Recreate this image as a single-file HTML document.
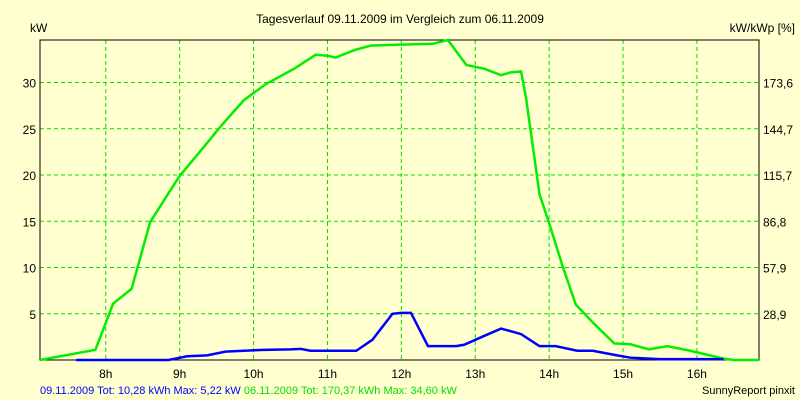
<!DOCTYPE html>
<html><head><meta charset="utf-8"><style>
body{margin:0;background:#ffffd0;}
svg{display:block;font-family:"Liberation Sans",sans-serif;}
</style></head><body>
<svg id="c" width="800" height="400">
<rect width="800" height="400" fill="#ffffd0"/>
<text x="400" y="23" font-size="12" text-anchor="middle">Tagesverlauf 09.11.2009 im Vergleich zum 06.11.2009</text>
<text x="30" y="32" font-size="12">kW</text>
<text x="795" y="32" font-size="12" text-anchor="end">kW/kWp [%]</text>
<g id="grid"></g><g id="series"></g>
<text x="40" y="394" font-size="11"><tspan fill="#0000ff">09.11.2009 Tot: 10,28 kWh Max: 5,22 kW </tspan><tspan fill="#00e000">06.11.2009 Tot: 170,37 kWh Max: 34,60 kW</tspan></text>
<text x="795" y="394" font-size="11" text-anchor="end">SunnyReport pinxit</text>
</svg>
<script>
const hourTicks=[8,9,10,11,12,13,14,15,16];
const kwTicks=[5,10,15,20,25,30];
const pctLabels=["28,9","57,9","86,8","115,7","144,7","173,6"];
const greenX=[7.11,7.86,8.1,8.35,8.6,8.83,9.0,9.24,9.58,9.87,10.16,10.55,10.84,11.0,11.11,11.36,11.59,11.99,12.43,12.63,12.88,13.12,13.35,13.48,13.62,13.69,13.87,14.0,14.18,14.36,14.61,14.88,15.1,15.35,15.6,15.91,16.36,16.5,16.84];
const greenY=[0,1.1,6.1,7.7,14.9,17.8,19.9,22.2,25.5,28.1,29.8,31.5,33.0,32.9,32.7,33.5,34.0,34.1,34.2,34.6,31.9,31.5,30.8,31.1,31.2,28.2,17.9,14.8,10.2,6.0,3.9,1.8,1.7,1.15,1.5,1.0,0.15,0,0];
const blueX=[7.6,8.85,9.1,9.37,9.62,9.87,10.14,10.5,10.64,10.77,11.25,11.39,11.61,11.88,12.0,12.13,12.36,12.74,12.85,13.12,13.35,13.62,13.87,14.09,14.38,14.59,14.92,15.1,15.49,16.36];
const blueY=[0,0,0.4,0.5,0.9,1.0,1.1,1.15,1.2,1.0,1.0,1.0,2.2,5.0,5.1,5.1,1.5,1.5,1.65,2.6,3.4,2.8,1.5,1.5,1.0,1.0,0.5,0.25,0.1,0.1];
const L=40,R=759,T=40,B=360,x0=7.11,x1=16.84,yMax=34.6;
const sx=h=>L+(h-x0)/(x1-x0)*(R-L);
const sy=v=>B-v/yMax*(B-T);
const NS="http://www.w3.org/2000/svg";
const g=document.getElementById('grid'),s=document.getElementById('series');
function mk(tag,at,p){const e=document.createElementNS(NS,tag);for(const k in at)e.setAttribute(k,at[k]);p.appendChild(e);return e;}
hourTicks.forEach(h=>{
 const l=mk('line',{x1:sx(h),x2:sx(h),y1:T,y2:B,stroke:'#00e000','stroke-dasharray':'4,3'},g);
 
 
 const t=mk('text',{x:sx(h),y:B+18,'font-size':12,'text-anchor':'middle'},g);t.textContent=h+'h';
 
 
});
kwTicks.forEach((v,i)=>{
 const l=mk('line',{x1:L,x2:R,y1:sy(v),y2:sy(v),stroke:'#00e000','stroke-dasharray':'4,3'},g);
 
 
 const t=mk('text',{x:L-4,y:sy(v)+5,'font-size':12,'text-anchor':'end'},g);t.textContent=v;
 
 
 const t2=mk('text',{x:R+4,y:sy(v)+5,'font-size':12},g);t2.textContent=pctLabels[i];
 
 
});
const ax=mk('path',{d:`M${L},${T}H${R}V${B}H${L}Z`,fill:'none',stroke:'#000'},g);


const pg=mk('polyline',{points:greenX.map((h,i)=>sx(h)+','+sy(greenY[i])).join(' '),fill:'none',stroke:'#00ee00','stroke-width':2.5},s);


const pb=mk('polyline',{points:blueX.map((h,i)=>sx(h)+','+sy(blueY[i])).join(' '),fill:'none',stroke:'#0000ff','stroke-width':2.5},s);


</script>
</body></html>
